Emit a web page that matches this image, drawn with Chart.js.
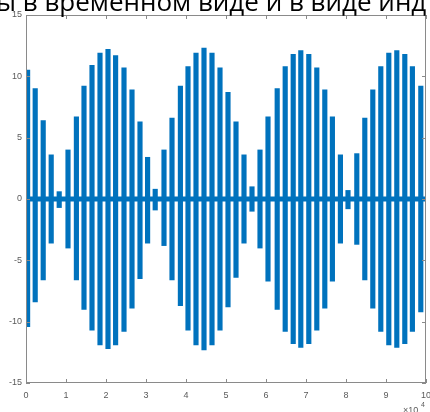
<!DOCTYPE html>
<html>
<head>
<meta charset="utf-8">
<script src="https://cdn.jsdelivr.net/npm/chart.js@4"></script>
<style>
html,body{margin:0;padding:0;background:#fff;}
#wrap{position:relative;width:430px;height:412px;}
</style>
</head>
<body>
<div id="wrap"><canvas id="c" width="430" height="412"></canvas></div>
<script>
// Partially visible title (cut off at the top in the original)
const titleText = "ы в временном виде и в виде инд";

// Stripe positions (sample index) and envelope values
const stripeX = [400,2300,4300,6300,8300,10500,12600,14500,16500,18500,20500,22400,24500,26500,28500,30400,32300,34500,36500,38600,40500,42500,44500,46500,48500,50500,52500,54500,56500,58500,60500,62800,64800,66800,68700,70700,72700,74700,76600,78600,80500,82700,84700,86700,88700,90700,92700,94700,96600,98700];
const upperVals = [10.5,9.0,6.4,3.6,0.6,4.0,6.7,9.2,10.9,11.9,12.2,11.7,10.7,8.9,6.3,3.4,0.8,4.0,6.6,9.2,10.8,11.9,12.3,11.9,10.7,8.7,6.3,3.6,1.0,4.0,6.7,9.0,10.8,11.8,12.1,11.8,10.7,8.9,6.7,3.6,0.7,3.7,6.6,8.9,10.8,11.9,12.1,11.8,10.8,9.2];
const lowerVals = [-10.4,-8.4,-6.6,-3.6,-0.7,-4.0,-6.6,-9.0,-10.7,-11.9,-12.2,-11.9,-10.8,-8.9,-6.5,-3.6,-0.9,-3.8,-6.6,-8.7,-10.7,-11.9,-12.3,-11.9,-10.7,-8.8,-6.4,-3.6,-1.0,-4.0,-6.7,-9.0,-10.8,-11.8,-12.1,-11.8,-10.7,-8.9,-6.7,-3.6,-0.8,-3.7,-6.6,-8.9,-10.8,-11.9,-12.1,-11.8,-10.8,-9.2];
// Zero-level band
const bandX = [0, 100000];
const bandY = [0, 0];

const xTicks = [0,10000,20000,30000,40000,50000,60000,70000,80000,90000,100000];
const yTicks = [-15,-10,-5,0,5,10,15];

const blue = '#0072BD';

const stripes = stripeX.map((x,i)=>({x:x, y:[lowerVals[i], upperVals[i]]}));
const band = bandX.map((x,i)=>({x:x, y:bandY[i]}));

const framePlugin = {
  id:'frame',
  afterDatasetsDraw(chart){
    const {ctx, chartArea:a, scales} = chart;
    ctx.save();
    ctx.strokeStyle = '#8a8a8a';
    ctx.lineWidth = 1;
    ctx.strokeRect(Math.round(a.left)+0.5, Math.round(a.top)+0.5, Math.round(a.right-a.left)-1, Math.round(a.bottom-a.top)-1);
    ctx.beginPath();
    const tl = 4;
    xTicks.forEach(v=>{
      const px = Math.round(scales.x.getPixelForValue(v))+0.5;
      ctx.moveTo(px, a.bottom); ctx.lineTo(px, a.bottom-tl);
      ctx.moveTo(px, a.top); ctx.lineTo(px, a.top+tl);
    });
    yTicks.forEach(v=>{
      const py = Math.round(scales.y.getPixelForValue(v))+0.5;
      ctx.moveTo(a.left, py); ctx.lineTo(a.left+tl, py);
      ctx.moveTo(a.right, py); ctx.lineTo(a.right-tl, py);
    });
    ctx.stroke();
    ctx.restore();
  },
  afterDraw(chart){
    const ctx = chart.ctx;
    ctx.save();
    ctx.fillStyle = '#000';
    ctx.font = '26px "Open Sans"';
    ctx.textBaseline = 'alphabetic';
    ctx.fillText(titleText, -4, 11);
    ctx.fillStyle = '#5a5a5a';
    ctx.font = '9px "Liberation Sans"';
    ctx.fillText('\u00d710', 403, 413);
    ctx.font = '7px "Liberation Sans"';
    ctx.fillText('4', 421, 407);
    ctx.restore();
  }
};

new Chart(document.getElementById('c'), {
  type:'bar',
  data:{
    datasets:[
      {type:'bar', data:stripes, backgroundColor:blue, borderWidth:0, barThickness:4.5, grouped:false, order:2},
      {type:'line', data:band, borderColor:blue, borderWidth:5, pointRadius:0, fill:false, order:1}
    ]
  },
  options:{
    responsive:false,
    animation:false,
    devicePixelRatio:1,
    layout:{padding:{top:15,right:4,left:0,bottom:0}},
    plugins:{legend:{display:false}, tooltip:{enabled:false}, title:{display:false}},
    scales:{
      x:{
        type:'linear', min:0, max:100000, offset:false,
        afterBuildTicks(s){ s.ticks = xTicks.map(v=>({value:v})); },
        afterFit(s){ s.height = 29; s.paddingLeft=0; s.paddingRight=0; },
        grid:{display:false, drawTicks:false},
        border:{display:false},
        ticks:{padding:7, color:'#5a5a5a', font:{family:'Liberation Sans', size:9}, maxRotation:0, autoSkip:false, callback:v=>String(v/10000)}
      },
      y:{
        type:'linear', min:-15, max:15,
        afterBuildTicks(s){ s.ticks = yTicks.map(v=>({value:v})); },
        afterFit(s){ s.width = 26; s.paddingTop=0; s.paddingBottom=0; },
        grid:{display:false, drawTicks:false},
        border:{display:false},
        ticks:{padding:4, color:'#5a5a5a', font:{family:'Liberation Sans', size:9}, autoSkip:false, callback:v=>String(v)}
      }
    }
  },
  plugins:[framePlugin]
});
</script>
</body>
</html>
